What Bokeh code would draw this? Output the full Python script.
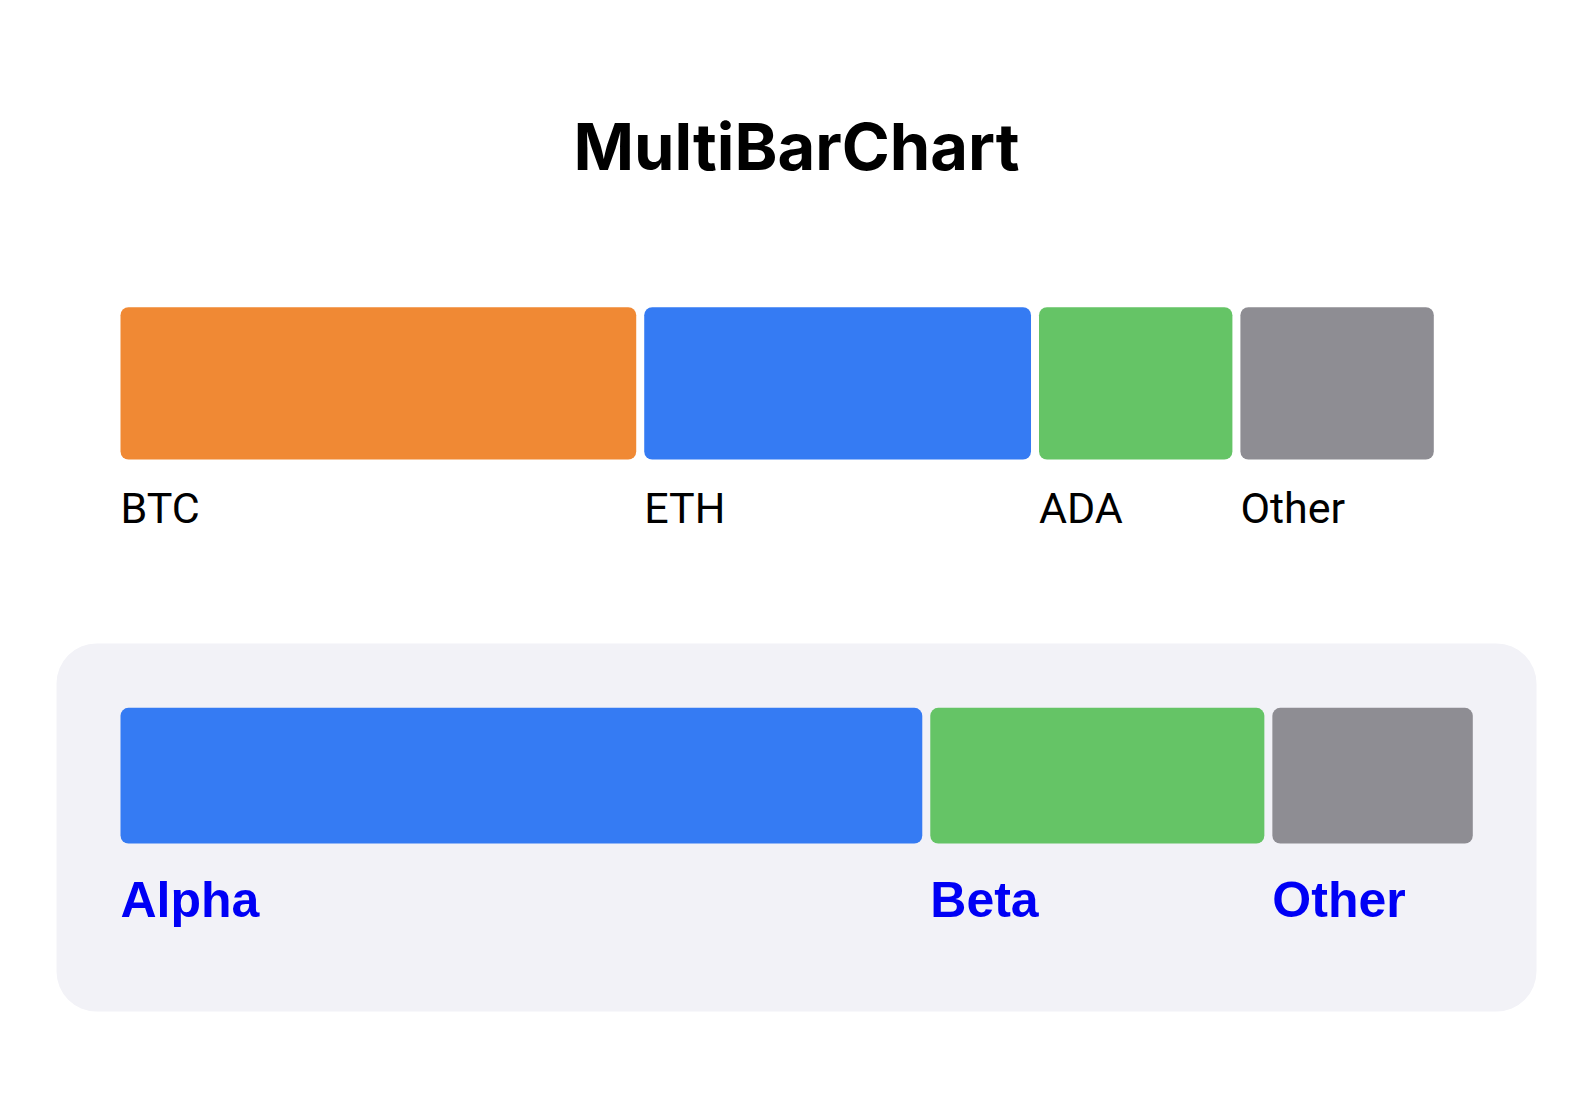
from bokeh.plotting import figure
from bokeh.models import Range1d, ColumnDataSource
from bokeh.core.properties import value
from bokeh.embed import file_html
from bokeh.resources import INLINE
import numpy as np

# ---- data ----
title_text = "MultiBarChart"
top_labels = ["BTC", "ETH", "ADA", "Other"]
top_values = [40, 30, 15, 15]
top_colors = ["#F08934", "#357BF3", "#65C466", "#8E8D93"]
bottom_labels = ["Alpha", "Beta", "Other"]
bottom_values = [60, 25, 15]
bottom_colors = ["#357BF3", "#65C466", "#8E8D93"]

# ---- layout (pixels) ----
W, H = 1576, 1092
GAP = 8
ROW_LEFT = 120.0
TOP_RIGHT = 1433.3
BOT_RIGHT = 1472.3


def row_range(values, left_px, right_px):
    n = len(values)
    total = float(sum(values))
    ppu = (right_px - left_px - GAP * (n - 1)) / total
    start = -left_px / ppu
    end = start + W / ppu
    return Range1d(start, end), GAP / ppu


def segments(values, gap_u):
    v = np.array(values, dtype=float)
    cum = np.concatenate([[0.0], np.cumsum(v)[:-1]])
    lefts = cum + np.arange(len(v)) * gap_u
    return lefts, lefts + v


top_range, top_gap = row_range(top_values, ROW_LEFT, TOP_RIGHT)
bot_range, bot_gap = row_range(bottom_values, ROW_LEFT, BOT_RIGHT)

p = figure(width=W, height=H, output_backend="svg", toolbar_location=None,
           x_range=top_range, y_range=Range1d(H, 0),
           min_border=0, outline_line_color=None,
           x_axis_location=None, y_axis_location=None,
           background_fill_color="white", border_fill_color="white")
p.extra_x_ranges = {"bottom": bot_range, "px": Range1d(0, W)}
p.xgrid.visible = False
p.ygrid.visible = False

# title
p.text(x=[796], y=[146], text=[title_text], x_range_name="px",
       text_font=value("Inter"), text_font_style="bold", text_font_size="65px",
       text_color="#000000", text_align="center", text_baseline="alphabetic")

# top row
tl, tr = segments(top_values, top_gap)
top_src = ColumnDataSource(dict(left=tl, right=tr, color=top_colors, label=top_labels))
p.quad(left="left", right="right", top=306.7, bottom=459, source=top_src,
       fill_color="color", line_color=None, border_radius=8)
p.text(x="left", y=507, text="label", source=top_src,
       text_font=value("Roboto"), text_font_size="43px", text_color="#000000",
       text_align="left", text_baseline="alphabetic")

# bottom panel
p.quad(left=[56], right=[1536], top=[643], bottom=[1011], x_range_name="px",
       fill_color="#F2F2F7", line_color=None, border_radius=40)

bl, br = segments(bottom_values, bot_gap)
bot_src = ColumnDataSource(dict(left=bl, right=br, color=bottom_colors, label=bottom_labels))
p.quad(left="left", right="right", top=707.3, bottom=843, source=bot_src,
       x_range_name="bottom", fill_color="color", line_color=None, border_radius=8)
p.text(x="left", y=899, text="label", source=bot_src, x_range_name="bottom",
       text_font=value("Liberation Sans"), text_font_style="bold", text_font_size="50px",
       text_color="#0000F5", text_align="left", text_baseline="alphabetic")

open("out.html", "w").write(file_html(p, INLINE))
